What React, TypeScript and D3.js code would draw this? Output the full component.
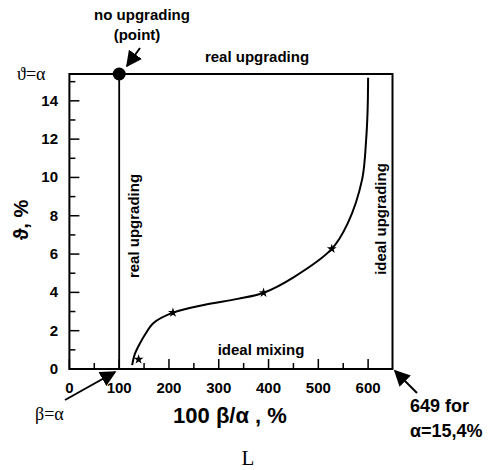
import * as d3 from 'd3';

// curve (x = 100 β/α, y = ϑ)
const curveX = [126, 131, 142, 152, 169, 208, 270, 338, 390, 451, 527, 559, 588, 596, 599, 600];
const curveY = [0.2, 0.75, 1.35, 1.8, 2.4, 2.94, 3.34, 3.66, 3.98, 4.8, 6.27, 7.6, 9.9, 11.95, 13.5, 15.2];
const starX = [139, 208, 390, 527];
const starY = [0.5, 2.94, 3.98, 6.27];
const xTicks = [0, 100, 200, 300, 400, 500, 600];
const xMinor = [50, 150, 250, 350, 450, 550];
const yTicks = [0, 2, 4, 6, 8, 10, 12, 14];
const yMinor = [1, 3, 5, 7, 9, 11, 13, 15];
const ALPHA = 15.4;
const X_MAX = 649;

const SANS = 'Arial, "Liberation Sans", sans-serif';
const SERIF = '"Times New Roman", "Liberation Serif", serif';

export default function App() {
  const x = d3.scaleLinear().domain([0, X_MAX]).range([69.4, 392.5]);
  const y = d3.scaleLinear().domain([0, ALPHA]).range([369, 74]);

  const pts = curveX.map((v, i) => [v, curveY[i]] as [number, number]);
  const line = d3
    .line<[number, number]>()
    .x((d) => x(d[0]))
    .y((d) => y(d[1]))
    .curve(d3.curveCatmullRom.alpha(0.5));

  const star = d3.symbol().type(d3.symbolStar).size(30)();

  return (
    <svg
      width={496}
      height={470}
      style={{ position: 'absolute', left: 0, top: 0, background: '#fff' }}
    >
      <defs>
        <marker id="ah" viewBox="0 0 10 10" refX="9" refY="5" markerWidth="8" markerHeight="8" orient="auto">
          <path d="M0,0 L10,5 L0,10 z" fill="#000" />
        </marker>
      </defs>

      {/* frame */}
      <rect
        x={x(0)}
        y={y(ALPHA)}
        width={x(X_MAX) - x(0)}
        height={y(0) - y(ALPHA)}
        fill="none"
        stroke="#000"
        strokeWidth={2}
      />

      {/* y ticks */}
      {yTicks.map((t) => (
        <g key={'y' + t}>
          <line x1={x(0)} x2={x(0) + 10} y1={y(t)} y2={y(t)} stroke="#000" strokeWidth={1.5} />
          <text
            x={58}
            y={y(t) + 5}
            textAnchor="end"
            fontFamily={SANS}
            fontWeight="bold"
            fontSize={15}
          >
            {t}
          </text>
        </g>
      ))}
      {yMinor.map((t) => (
        <line key={'ym' + t} x1={x(0)} x2={x(0) + 6} y1={y(t)} y2={y(t)} stroke="#000" strokeWidth={1.5} />
      ))}

      {/* x ticks */}
      {xTicks.map((t) => (
        <g key={'x' + t}>
          <line x1={x(t)} x2={x(t)} y1={y(0)} y2={y(0) - 10} stroke="#000" strokeWidth={1.5} />
          <text
            x={x(t)}
            y={393}
            textAnchor="middle"
            fontFamily={SANS}
            fontWeight="bold"
            fontSize={15}
          >
            {t}
          </text>
        </g>
      ))}
      {xMinor.map((t) => (
        <line key={'xm' + t} x1={x(t)} x2={x(t)} y1={y(0)} y2={y(0) - 6} stroke="#000" strokeWidth={1.5} />
      ))}

      {/* β = α vertical line and point */}
      <line x1={x(100)} x2={x(100)} y1={y(0)} y2={y(ALPHA)} stroke="#000" strokeWidth={1.8} />
      <circle cx={x(100)} cy={y(ALPHA)} r={6.5} fill="#000" />

      {/* ideal curve */}
      <path d={line(pts) || ''} fill="none" stroke="#000" strokeWidth={2} />
      {starX.map((v, i) => (
        <path key={'s' + i} d={star || ''} transform={`translate(${x(v)},${y(starY[i])})`} fill="#000" />
      ))}

      {/* annotations */}
      <text x={142} y={20} textAnchor="middle" fontFamily={SANS} fontWeight="bold" fontSize={15}>
        no upgrading
      </text>
      <text x={137} y={40} textAnchor="middle" fontFamily={SANS} fontWeight="bold" fontSize={15}>
        (point)
      </text>
      <line x1={140} y1={48} x2={127} y2={66} stroke="#000" strokeWidth={2} markerEnd="url(#ah)" />

      <text x={257} y={62} textAnchor="middle" fontFamily={SANS} fontWeight="bold" fontSize={15}>
        real upgrading
      </text>
      <text x={17} y={80} fontFamily={SERIF} fontSize={18}>
        ϑ=α
      </text>

      <text
        transform={`translate(139,226) rotate(-90)`}
        textAnchor="middle"
        fontFamily={SANS}
        fontWeight="bold"
        fontSize={15}
      >
        real upgrading
      </text>
      <text
        transform={`translate(386,219) rotate(-90)`}
        textAnchor="middle"
        fontFamily={SANS}
        fontWeight="bold"
        fontSize={15}
      >
        ideal upgrading
      </text>
      <text x={261} y={355} textAnchor="middle" fontFamily={SANS} fontWeight="bold" fontSize={15}>
        ideal mixing
      </text>

      <text
        transform={`translate(28,220) rotate(-90)`}
        textAnchor="middle"
        fontFamily={SANS}
        fontWeight="bold"
        fontSize={20}
      >
        ϑ, %
      </text>
      <text x={230} y={423} textAnchor="middle" fontFamily={SANS} fontWeight="bold" fontSize={22}>
        100 β/α , %
      </text>

      <text x={35} y={420} fontFamily={SERIF} fontSize={18}>
        β=α
      </text>
      <line x1={65} y1={400} x2={115} y2={372} stroke="#000" strokeWidth={2} markerEnd="url(#ah)" />

      <text x={410} y={412} fontFamily={SANS} fontWeight="bold" fontSize={18}>
        649 for
      </text>
      <text x={410} y={437} fontFamily={SANS} fontWeight="bold" fontSize={18}>
        α=15,4%
      </text>
      <line x1={417} y1={393} x2={395} y2={371} stroke="#000" strokeWidth={2} markerEnd="url(#ah)" />

      <text x={248} y={465} textAnchor="middle" fontFamily={SERIF} fontSize={21}>
        L
      </text>
    </svg>
  );
}
